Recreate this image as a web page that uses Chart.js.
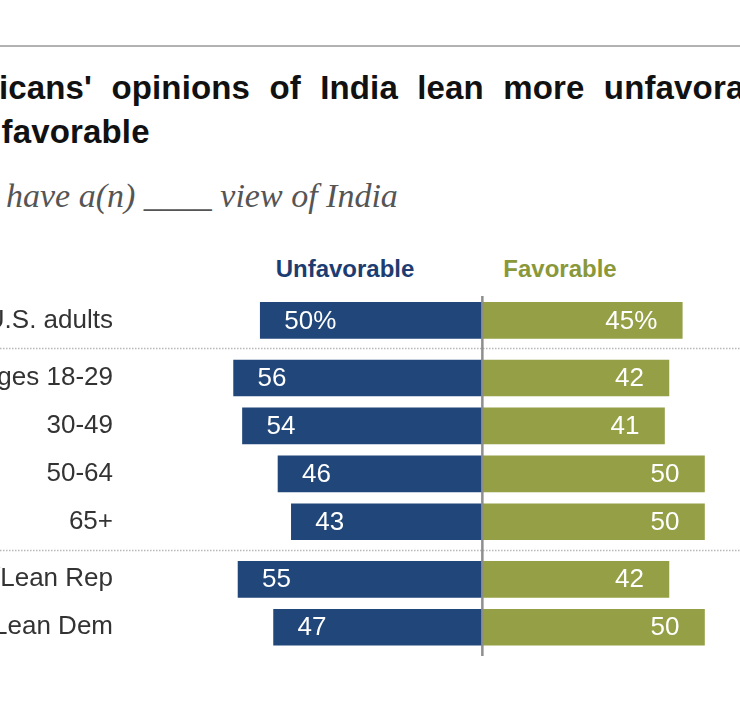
<!DOCTYPE html>
<html>
<head>
<meta charset="utf-8">
<script src="https://cdn.jsdelivr.net/npm/chart.js@4.4.1/dist/chart.umd.min.js"></script>
<style>
  body { margin: 0; background: #fff; }
  #page { position: relative; width: 740px; height: 710px; overflow: hidden; background: #fff; }
  .rule { position: absolute; left: 0; top: 45px; width: 740px; border-top: 2px solid #b2b2b2; }
  .title { position: absolute; white-space: nowrap; font: bold 33px "Liberation Sans", Arial, sans-serif; line-height: 34px; color: #111; word-spacing: 10px; letter-spacing: 0.15px; }
  .subtitle { position: absolute; white-space: nowrap; font: italic 34px "Liberation Serif", Georgia, serif; line-height: 34px; color: #555; }
  .head { position: absolute; width: 200px; text-align: center; font: bold 24px "Liberation Sans", Arial, sans-serif; line-height: 24px; }
  canvas { position: absolute; left: 0; top: 0; }
</style>
</head>
<body>
<div id="page">
  <div class="rule"></div>
  <div class="title" style="left:-86px; top:71px;">Americans' opinions of India lean more unfavorable</div>
  <div class="title" style="left:-88px; top:115px;">than favorable</div>
  <div class="subtitle" style="left:-96px; top:179px;">% who have a(n) ____ view of India</div>
  <div class="head" style="left:245px; top:257px; color:#1d3d72;">Unfavorable</div>
  <div class="head" style="left:460px; top:257px; color:#8a983a;">Favorable</div>
  <canvas id="chart" width="740" height="710"></canvas>
</div>
<script>
// Données
const categories = ['U.S. adults', 'Ages 18-29', '30-49', '50-64', '65+', 'Rep/Lean Rep', 'Dem/Lean Dem'];
const groups = [0, 1, 1, 1, 1, 2, 2];
const unfavorable = [50, 56, 54, 46, 43, 55, 47];
const favorable = [45, 42, 41, 50, 50, 42, 50];

const BLUE = '#20467a';
const OLIVE = '#959f45';
const GROUP_GAP = 0.2;

// position de chaque ligne : index + écart entre les groupes
const rowPos = categories.map((c, i) => i + groups[i] * GROUP_GAP);

const decor = {
    id: 'decor',
    beforeDatasetsDraw(chart) {
        const ctx = chart.ctx;
        const y = chart.scales.y;
        ctx.save();
        ctx.strokeStyle = '#b8b8b8';
        ctx.lineWidth = 1.5;
        ctx.setLineDash([1.5, 1.5]);
        for (let i = 1; i < groups.length; i++) {
            if (groups[i] === groups[i - 1]) continue;
            const py = Math.round((y.getPixelForValue(rowPos[i - 1]) + y.getPixelForValue(rowPos[i])) / 2) - 0.5;
            ctx.beginPath();
            ctx.moveTo(0, py);
            ctx.lineTo(chart.width, py);
            ctx.stroke();
        }
        ctx.restore();
    },
    afterDatasetsDraw(chart) {
        const ctx = chart.ctx;
        const area = chart.chartArea;
        const x0 = chart.scales.x.getPixelForValue(0);
        ctx.save();
        ctx.strokeStyle = '#8e8e8e';
        ctx.lineWidth = 2.5;
        ctx.beginPath();
        ctx.moveTo(x0, area.top);
        ctx.lineTo(x0, area.bottom);
        ctx.stroke();

        ctx.fillStyle = '#fff';
        ctx.font = '26px "Liberation Sans", Arial, sans-serif';
        ctx.textBaseline = 'middle';
        chart.getDatasetMeta(0).data.forEach((bar, i) => {
            ctx.textAlign = 'left';
            ctx.fillText(unfavorable[i] + (i === 0 ? '%' : ''), bar.x + 24, bar.y + 1);
        });
        chart.getDatasetMeta(1).data.forEach((bar, i) => {
            ctx.textAlign = 'right';
            ctx.fillText(favorable[i] + (i === 0 ? '%' : ''), bar.x - 25, bar.y + 1);
        });
        ctx.restore();
    }
};

new Chart(document.getElementById('chart'), {
    type: 'bar',
    data: {
        datasets: [{
            label: 'Unfavorable',
            data: unfavorable.map((v, i) => ({ x: -v, y: rowPos[i] })),
            backgroundColor: BLUE,
            barThickness: 36,
            grouped: false
        }, {
            label: 'Favorable',
            data: favorable.map((v, i) => ({ x: v, y: rowPos[i] })),
            backgroundColor: OLIVE,
            barThickness: 36,
            grouped: false
        }]
    },
    options: {
        indexAxis: 'y',
        responsive: false,
        animation: false,
        devicePixelRatio: 1,
        layout: {
            padding: { top: 296, bottom: 54, left: 0, right: 0 }
        },
        plugins: {
            legend: { display: false },
            tooltip: { enabled: false }
        },
        scales: {
            x: {
                type: 'linear',
                min: -80,
                max: 58,
                display: false
            },
            y: {
                type: 'linear',
                reverse: true,
                offset: false,
                min: -0.51,
                max: 7.0,
                grid: { display: false },
                border: { display: false },
                afterBuildTicks(scale) {
                    scale.ticks = rowPos.map(v => ({ value: v }));
                },
                afterFit(scale) {
                    scale.width = 127;
                },
                ticks: {
                    autoSkip: false,
                    padding: 6,
                    color: '#333',
                    font: { family: '"Liberation Sans", Arial, sans-serif', size: 26 },
                    callback: (value, index) => categories[index]
                }
            }
        }
    },
    plugins: [decor]
});
</script>
</body>
</html>
